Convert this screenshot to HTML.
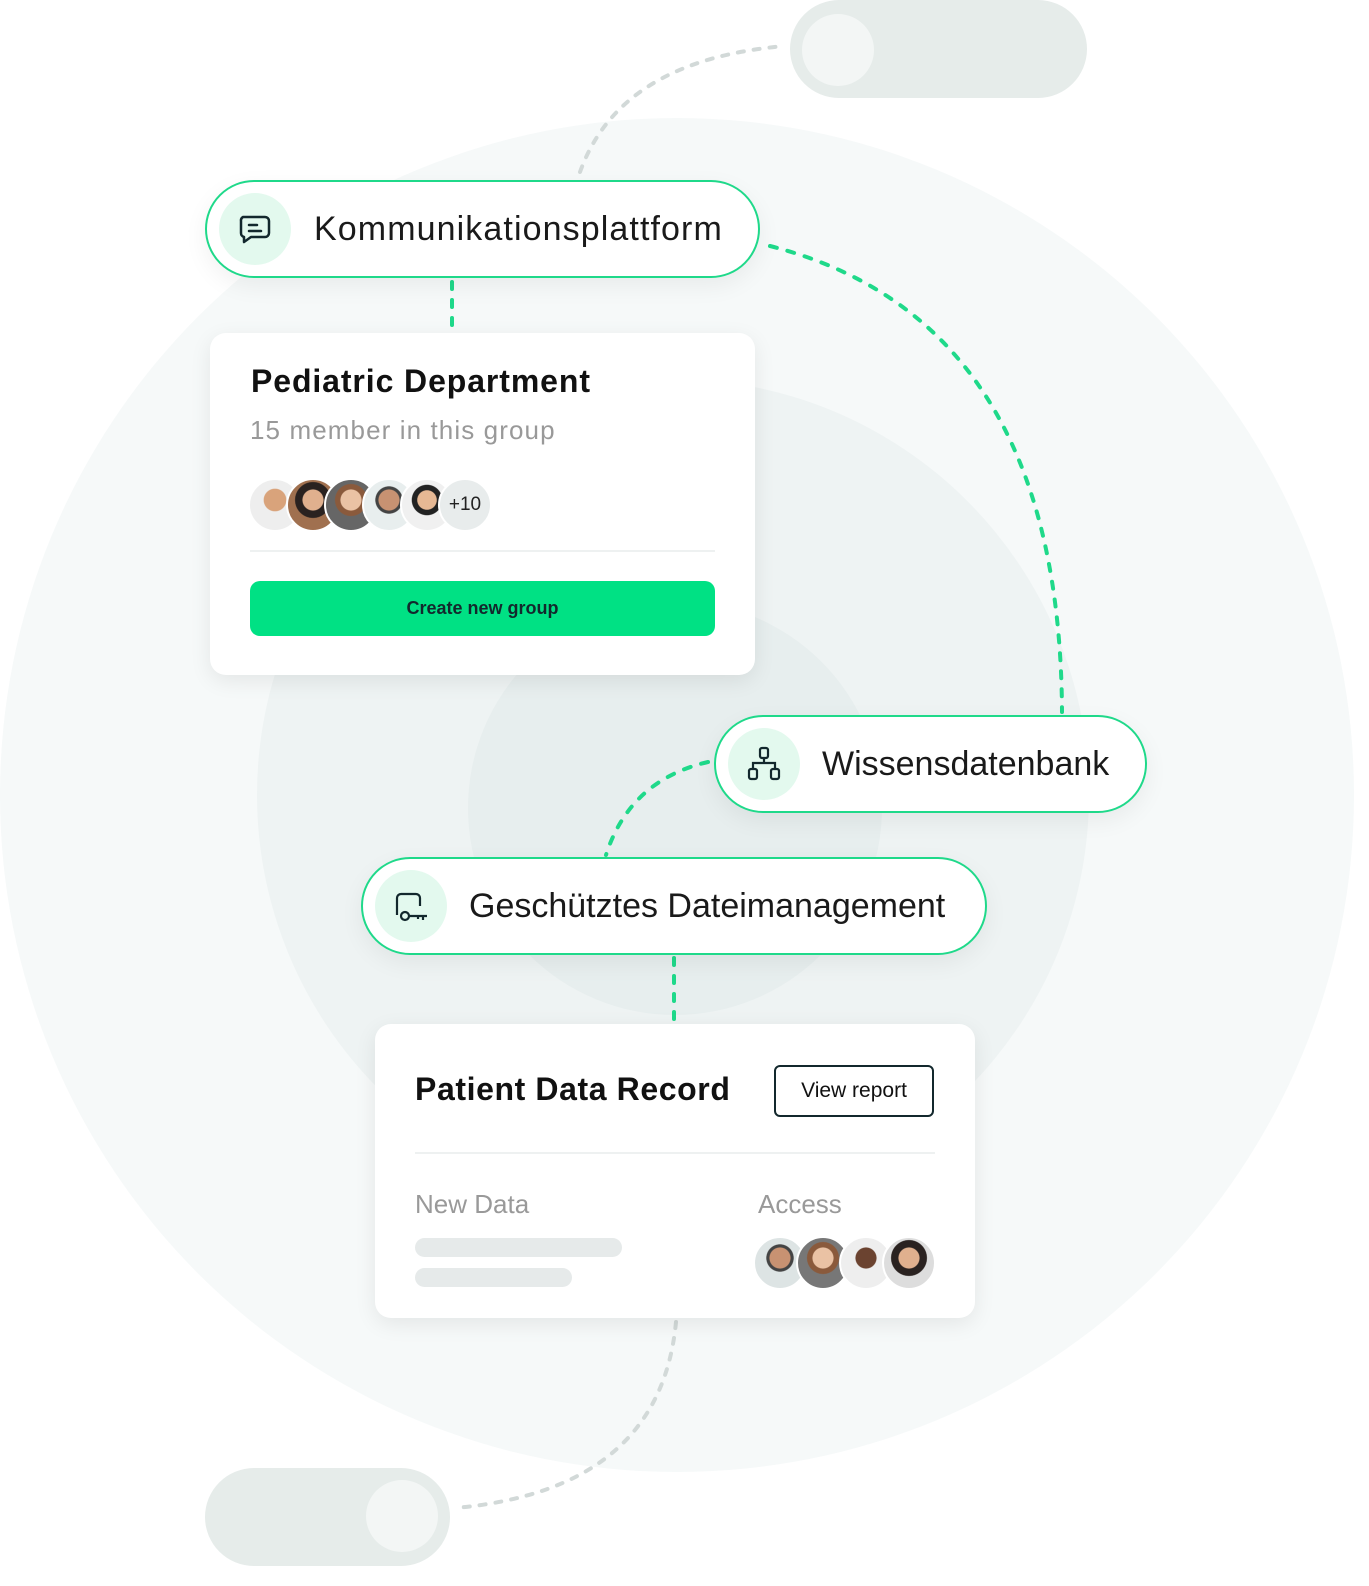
<!DOCTYPE html><html><head><meta charset="utf-8"><style>
body{margin:0;width:1369px;height:1586px;position:relative;background:#fff;font-family:"Liberation Sans",sans-serif;overflow:hidden}
.a{position:absolute}
.pill{position:absolute;height:94px;border:2px solid #1fd98a;border-radius:50px;background:#fff;box-shadow:0 8px 24px rgba(0,0,0,.06)}
.pill .ic{position:absolute;left:12px;top:11px;width:72px;height:72px;border-radius:50%;background:#e3f9ee}
.pill .t{position:absolute;top:0;line-height:94px;font-size:34px;color:#1a1a1a;white-space:nowrap}
.card{position:absolute;background:#fff;border-radius:16px;box-shadow:0 6px 22px rgba(0,0,0,.08)}
.av{position:absolute;width:50px;height:50px;border-radius:50%;border:2px solid #fff}
</style></head><body>
<svg class="a" style="left:0;top:0" width="1369" height="1586">
<circle cx="677" cy="795" r="677" fill="#f6f9f9"/>
<circle cx="673" cy="795" r="416" fill="#eef3f3"/>
<circle cx="675" cy="808" r="207" fill="#e7eeee"/>
<rect x="790" y="0" width="297" height="98" rx="49" fill="#e6ecea"/>
<circle cx="838" cy="50" r="36" fill="#f3f6f5"/>
<rect x="205" y="1468" width="245" height="98" rx="49" fill="#e6ecea"/>
<circle cx="402" cy="1516" r="36" fill="#f3f6f5"/>
<path d="M580 172 Q620 60 785 46" fill="none" stroke="#d2d9d8" stroke-width="4" stroke-dasharray="6 10" stroke-linecap="round"/>
<path d="M676 1322 Q660 1490 455 1508" fill="none" stroke="#d2d9d8" stroke-width="4" stroke-dasharray="6 10" stroke-linecap="round"/>
<g fill="none" stroke="#1fd98a" stroke-width="4" stroke-dasharray="7 11" stroke-linecap="round">
<path d="M770 246 Q1060 320 1062 712"/>
<path d="M708 762 Q630 780 606 855"/>
<path d="M452 282 V332"/>
<path d="M674 958 V1022"/>
</g>
</svg>

<div class="pill" style="left:205px;top:180px;width:551px">
<div class="ic"><svg width="72" height="72"><path d="M24 24 h22 a4 4 0 0 1 4 4 v12 a4 4 0 0 1 -4 4 h-14 l-7 5 v-5 a4 4 0 0 1 -3 -4 v-12 a4 4 0 0 1 2 -4z" fill="none" stroke="#13282d" stroke-width="2.5" stroke-linejoin="round"/><path d="M30 32h8M30 38h12" stroke="#13282d" stroke-width="2.5" stroke-linecap="round"/></svg></div>
<div class="t" style="left:107px;letter-spacing:1.1px">Kommunikationsplattform</div></div>

<div class="pill" style="left:714px;top:715px;width:429px">
<div class="ic"><svg width="72" height="72" fill="none" stroke="#13282d" stroke-width="2.2"><rect x="32" y="20" width="8" height="10" rx="2"/><rect x="21" y="41" width="8" height="10" rx="2"/><rect x="43" y="41" width="8" height="10" rx="2"/><path d="M36 30v5M25 41v-6h22v6"/></svg></div>
<div class="t" style="left:106px">Wissensdatenbank</div></div>

<div class="pill" style="left:361px;top:857px;width:622px">
<div class="ic"><svg width="72" height="72" fill="none" stroke="#13282d" stroke-width="2.2"><path d="M22 45v-17a4 4 0 0 1 4-4h15a4 4 0 0 1 4 4v8"/><circle cx="30" cy="46" r="4"/><path d="M34 46h18M48 46v4M43 46v3"/></svg></div>
<div class="t" style="left:106px">Geschütztes Dateimanagement</div></div>

<div class="card" style="left:210px;top:333px;width:545px;height:342px">
<div class="a" style="left:41px;top:30px;font-size:32px;font-weight:bold;color:#111;letter-spacing:0.9px">Pediatric Department</div>
<div class="a" style="left:40px;top:82px;font-size:26px;color:#999;letter-spacing:1.1px">15 member in this group</div>
<div class="av" style="left:38px;top:145px;background:radial-gradient(circle at 50% 40%,#d9a37b 0 28%,#eee 30%)"></div>
<div class="av" style="left:76px;top:145px;background:radial-gradient(circle at 50% 40%,#e0b08e 0 26%,#2a2220 28% 45%,#a0704f 47%)"></div>
<div class="av" style="left:114px;top:145px;background:radial-gradient(circle at 50% 40%,#eac2a4 0 26%,#8a5a3c 28% 40%,#666 42%)"></div>
<div class="av" style="left:152px;top:145px;background:radial-gradient(circle at 50% 40%,#c89272 0 26%,#444 28% 34%,#e8eeee 36%)"></div>
<div class="av" style="left:190px;top:145px;background:radial-gradient(circle at 50% 40%,#e6b894 0 24%,#222 26% 38%,#f0f0f0 40%)"></div>
<div class="av" style="left:228px;top:145px;background:#e8ecec;font-size:19px;line-height:50px;text-align:center;color:#222">+10</div>
<div class="a" style="left:40px;top:217px;width:465px;height:2px;background:#eef1f1"></div>
<div class="a" style="left:40px;top:248px;width:465px;height:55px;border-radius:10px;background:#00e184;text-align:center;line-height:55px;font-size:18px;font-weight:bold;color:#13282d">Create new group</div>
</div>

<div class="card" style="left:375px;top:1024px;width:600px;height:294px">
<div class="a" style="left:40px;top:47px;font-size:32px;font-weight:bold;color:#111;letter-spacing:0.6px">Patient Data Record</div>
<div class="a" style="left:399px;top:41px;width:156px;height:48px;border:2px solid #13282d;border-radius:6px;text-align:center;line-height:48px;font-size:21px;color:#111">View report</div>
<div class="a" style="left:40px;top:128px;width:520px;height:2px;background:#eef1f1"></div>
<div class="a" style="left:40px;top:165px;font-size:26px;color:#999">New Data</div>
<div class="a" style="left:383px;top:165px;font-size:26px;color:#999">Access</div>
<div class="a" style="left:40px;top:214px;width:207px;height:19px;border-radius:10px;background:#e6eaea"></div>
<div class="a" style="left:40px;top:244px;width:157px;height:19px;border-radius:10px;background:#e6eaea"></div>
<div class="av" style="left:378px;top:212px;background:radial-gradient(circle at 50% 40%,#c89272 0 26%,#444 28% 34%,#dde4e4 36%)"></div>
<div class="av" style="left:421px;top:212px;background:radial-gradient(circle at 50% 40%,#eac2a4 0 26%,#8a5a3c 28% 40%,#777 42%)"></div>
<div class="av" style="left:464px;top:212px;background:radial-gradient(circle at 50% 40%,#6b4330 0 26%,#eee 28%)"></div>
<div class="av" style="left:507px;top:212px;background:radial-gradient(circle at 50% 40%,#e0b08e 0 26%,#2a2220 28% 45%,#ddd 47%)"></div>
</div>
</body></html>
